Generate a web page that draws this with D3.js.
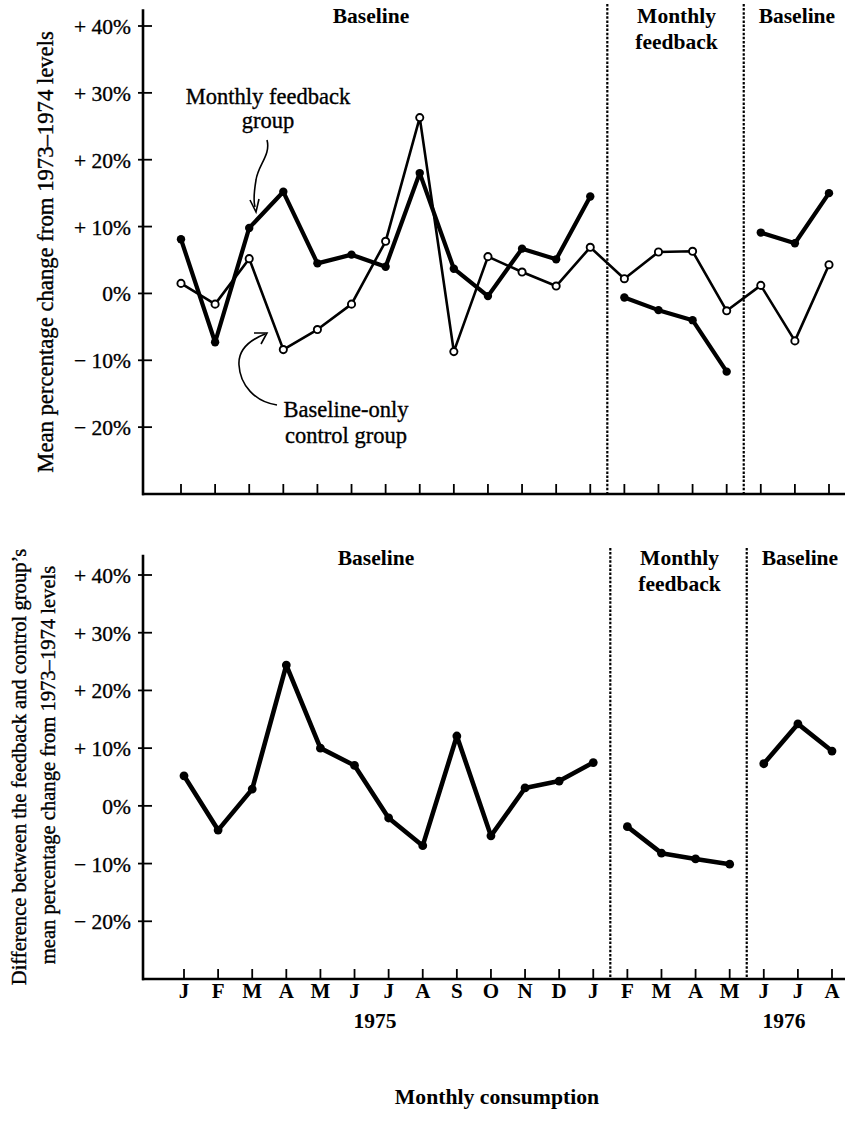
<!DOCTYPE html>
<html><head><meta charset="utf-8">
<script src="https://cdn.jsdelivr.net/npm/d3@7"></script>
<style>body{margin:0;background:#fff}svg{display:block}text{font-family:"Liberation Serif","DejaVu Serif",serif;fill:#000}.heavy{stroke:#000;stroke-width:0.35px}</style>
</head><body>
<svg id="c" width="845" height="1138"></svg>
<script>
const months = ["J","F","M","A","M","J","J","A","S","O","N","D","J","F","M","A","M","J","J","A"];
const yTicks = [40,30,20,10,0,-10,-20];
const tickLabels = ["+ 40%","+ 30%","+ 20%","+ 10%","0%","\u2212 10%","\u2212 20%"];
// phases: [startIndex, endIndex]
const phases = [[0,12],[13,16],[17,19]];
const phaseLabels = [["Baseline"],["Monthly","feedback"],["Baseline"]];
const feedbackGroup = [8.1,-7.3,9.8,15.2,4.5,5.8,4.0,18.0,3.7,-0.4,6.7,5.1,14.5,-0.6,-2.5,-4.0,-11.7,9.1,7.5,15.0];
const controlGroup = [1.5,-1.6,5.2,-8.4,-5.4,-1.6,7.8,26.3,-8.7,5.5,3.2,1.1,6.9,2.2,6.2,6.3,-2.6,1.2,-7.1,4.3];
const difference = [5.2,-4.2,2.9,24.4,10.0,7.0,-2.1,-6.9,12.1,-5.2,3.1,4.3,7.5,-3.6,-8.2,-9.2,-10.1,7.3,14.2,9.5];
const years = [["1975",375],["1976",784]];

const svg = d3.select("#c");

function panel(cfg){
  const g = svg.append("g");
  const x = d3.scaleLinear().domain([0,19]).range(cfg.xr);
  const y = d3.scaleLinear().domain([-30,40]).range([cfg.y0, cfg.y40]);
  const yTop = y(cfg.topVal);
  g.append("line").attr("x1",143).attr("x2",143).attr("y1",yTop).attr("y2",y(-30)+1.2)
    .attr("stroke","#000").attr("stroke-width",2.6);
  g.append("line").attr("x1",142).attr("x2",845).attr("y1",y(-30)).attr("y2",y(-30))
    .attr("stroke","#000").attr("stroke-width",2.6);
  const ya = d3.axisLeft(y).tickValues(yTicks).tickSize(0).tickFormat((d,i)=>tickLabels[i]);
  const yg = g.append("g").attr("transform","translate(131,0)").call(ya);
  yg.select(".domain").remove();
  yg.selectAll("text").attr("font-size",21.5).attr("font-family","Liberation Serif").attr("dy","0.35em").attr("x",0).attr("class","heavy");
  g.selectAll(".yt").data(yTicks).join("line").attr("x1",138).attr("x2",152)
    .attr("y1",d=>y(d)).attr("y2",d=>y(d)).attr("stroke","#000").attr("stroke-width",1.8);
  g.selectAll(".xt").data(months).join("line").attr("x1",(d,i)=>x(i)).attr("x2",(d,i)=>x(i))
    .attr("y1",y(-30)-10).attr("y2",y(-30)+1).attr("stroke","#000").attr("stroke-width",1.8);
  [12.5,16.5].forEach(v=>{
    g.append("line").attr("x1",x(v)).attr("x2",x(v)).attr("y1",cfg.dashTop).attr("y2",y(-30))
      .attr("stroke","#000").attr("stroke-width",2.2).attr("stroke-dasharray","2.5,1.6");
  });
  phases.forEach((p,i)=>{
    const cx = [cfg.lab0, (x(p[0])+x(p[1]))/2+1, (x(p[0])+x(p[1]))/2+2][i];
    phaseLabels[i].forEach((t,j)=>{
      g.append("text").attr("x",cx).attr("y",cfg.labY+j*26).attr("text-anchor","middle")
        .attr("font-size",21.5).attr("font-weight","bold").text(t);
    });
  });
  return {g,x,y};
}

// ---- top panel ----
const P1 = panel({xr:[181,829], y0:494, y40:26, topVal:42.5, dashTop:4, labY:23, lab0:371});
{
  const {g,x,y} = P1;
  const line = d3.line().x(d=>x(d.i)).y(d=>y(d.v));
  const cdata = controlGroup.map((v,i)=>({i,v}));
  g.append("path").attr("d",line(cdata)).attr("fill","none").attr("stroke","#000").attr("stroke-width",2.6).attr("stroke-linejoin","round");
  phases.forEach(p=>{
    const seg = feedbackGroup.map((v,i)=>({i,v})).filter(d=>d.i>=p[0]&&d.i<=p[1]);
    g.append("path").attr("d",line(seg)).attr("fill","none").attr("stroke","#000").attr("stroke-width",4.2).attr("stroke-linejoin","round").attr("stroke-linecap","round");
  });
  g.selectAll(".fd").data(feedbackGroup).join("circle").attr("cx",(d,i)=>x(i)).attr("cy",d=>y(d)).attr("r",4.2).attr("fill","#000");
  g.selectAll(".cd").data(controlGroup).join("circle").attr("cx",(d,i)=>x(i)).attr("cy",d=>y(d)).attr("r",3.6).attr("fill","#fff").attr("stroke","#000").attr("stroke-width",1.9);
  g.append("text").attr("x",268).attr("y",104).attr("text-anchor","middle").attr("font-size",22.5).attr("class","heavy").text("Monthly feedback");
  g.append("text").attr("x",268).attr("y",128).attr("text-anchor","middle").attr("font-size",22.5).attr("class","heavy").text("group");
  g.append("text").attr("x",346).attr("y",417).attr("text-anchor","middle").attr("font-size",22.5).attr("class","heavy").text("Baseline-only");
  g.append("text").attr("x",346).attr("y",443).attr("text-anchor","middle").attr("font-size",22.5).attr("class","heavy").text("control group");
  g.append("path").attr("d","M267,140 C271,155 258,165 256,180 C254,192 253,200 255,207").attr("fill","none").attr("stroke","#000").attr("stroke-width",1.6);
  g.append("path").attr("d","M250,200 L256,212 L259,199").attr("fill","none").attr("stroke","#000").attr("stroke-width",1.6);
  g.append("path").attr("d","M277,405 C255,402 240,385 239,365 C238,350 250,340 265,334").attr("fill","none").attr("stroke","#000").attr("stroke-width",1.6);
  g.append("path").attr("d","M254,333 L267,333 L261,344").attr("fill","none").attr("stroke","#000").attr("stroke-width",1.6);
  g.append("text").attr("transform","translate(53,252) rotate(-90)").attr("text-anchor","middle").attr("font-size",22.7).attr("class","heavy").text("Mean percentage change from 1973\u20131974 levels");
}

// ---- bottom panel ----
const P2 = panel({xr:[184,832], y0:979, y40:575, topVal:43.5, dashTop:548, labY:565, lab0:376});
{
  const {g,x,y} = P2;
  const line = d3.line().x(d=>x(d.i)).y(d=>y(d.v));
  phases.forEach(p=>{
    const seg = difference.map((v,i)=>({i,v})).filter(d=>d.i>=p[0]&&d.i<=p[1]);
    g.append("path").attr("d",line(seg)).attr("fill","none").attr("stroke","#000").attr("stroke-width",4.6).attr("stroke-linejoin","round").attr("stroke-linecap","round");
  });
  g.selectAll(".dd").data(difference).join("circle").attr("cx",(d,i)=>x(i)).attr("cy",d=>y(d)).attr("r",4.4).attr("fill","#000");
  g.selectAll(".ml").data(months).join("text").attr("x",(d,i)=>x(i)).attr("y",998).attr("text-anchor","middle")
    .attr("font-size",21).attr("font-weight","bold").text(d=>d);
  years.forEach(([t,cx])=>{
    g.append("text").attr("x",cx).attr("y",1028).attr("text-anchor","middle").attr("font-size",21.5).attr("font-weight","bold").text(t);
  });
  g.append("text").attr("x",497).attr("y",1104).attr("text-anchor","middle").attr("font-size",21.7).attr("font-weight","bold").text("Monthly consumption");
  g.append("text").attr("transform","translate(26,767) rotate(-90)").attr("text-anchor","middle").attr("font-size",20.6).attr("class","heavy").text("Difference between the feedback and control group\u2019s");
  g.append("text").attr("transform","translate(55,765) rotate(-90)").attr("text-anchor","middle").attr("font-size",20.6).attr("class","heavy").text("mean percentage change from 1973\u20131974 levels");
}
</script>
</body></html>
